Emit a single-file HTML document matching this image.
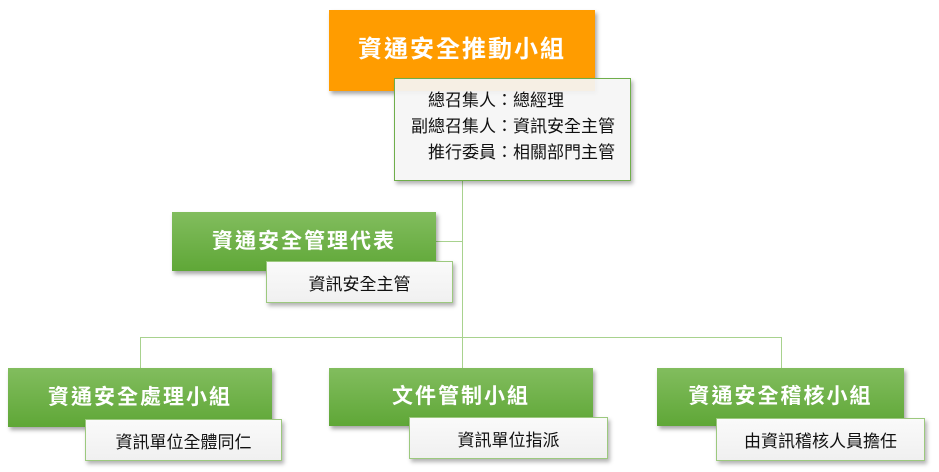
<!DOCTYPE html>
<html><head><meta charset="utf-8"><style>
body{margin:0;width:939px;height:472px;background:#fff;position:relative;overflow:hidden;font-family:"Liberation Sans","Noto Sans CJK TC",sans-serif}
.a{position:absolute;box-sizing:border-box}
.h{color:#fff;font-weight:bold;display:flex;align-items:center;justify-content:center;box-shadow:2px 3px 4px rgba(0,0,0,.35);white-space:nowrap}
.g{background:linear-gradient(#82bd5e,#5fa737);font-size:21px;letter-spacing:2px}
.s{background:linear-gradient(#fafafa,#f0f0f0);border:1.5px solid #9cc97e;color:#111;font-size:17px;display:flex;align-items:center;justify-content:center;box-shadow:2px 3px 4px rgba(0,0,0,.3);white-space:nowrap}
.l{background:#a8d28e}
</style></head><body>
<div class="a l" style="left:462px;top:181px;width:1px;height:187px"></div>
<div class="a l" style="left:436px;top:241px;width:26px;height:1px"></div>
<div class="a l" style="left:140px;top:337px;width:642px;height:1px"></div>
<div class="a l" style="left:140px;top:337px;width:1px;height:31px"></div>
<div class="a l" style="left:781px;top:337px;width:1px;height:31px"></div>

<div class="a h" style="left:329px;top:10px;width:266px;height:81px;background:#ff9c00;font-size:24px;letter-spacing:2px;padding-bottom:8px">資通安全推動小組</div>
<div class="a s" style="left:394px;top:78px;width:237px;height:103px;border-color:#6fae4a;background:rgba(245,245,245,.93);display:block;font-size:17px;line-height:26px">
<div style="position:absolute;right:117px;top:9px;text-align:right">總召集人：<br>副總召集人：<br>推行委員：</div>
<div style="position:absolute;left:118px;top:9px">總經理<br>資訊安全主管<br>相關部門主管</div>
</div>

<div class="a h g" style="left:172px;top:212px;width:264px;height:59px;padding-bottom:4px">資通安全管理代表</div>
<div class="a s" style="left:266px;top:261px;width:187px;height:42px">資訊安全主管</div>

<div class="a h g" style="left:8px;top:368px;width:264px;height:59px;padding-bottom:4px">資通安全處理小組</div>
<div class="a s" style="left:85px;top:419px;width:197px;height:42px">資訊單位全體同仁</div>

<div class="a h g" style="left:329px;top:368px;width:264px;height:58px;padding-bottom:4px">文件管制小組</div>
<div class="a s" style="left:409px;top:417px;width:199px;height:42px">資訊單位指派</div>

<div class="a h g" style="left:657px;top:368px;width:247px;height:58px;padding-bottom:4px">資通安全稽核小組</div>
<div class="a s" style="left:716px;top:418px;width:209px;height:43px">由資訊稽核人員擔任</div>
</body></html>
